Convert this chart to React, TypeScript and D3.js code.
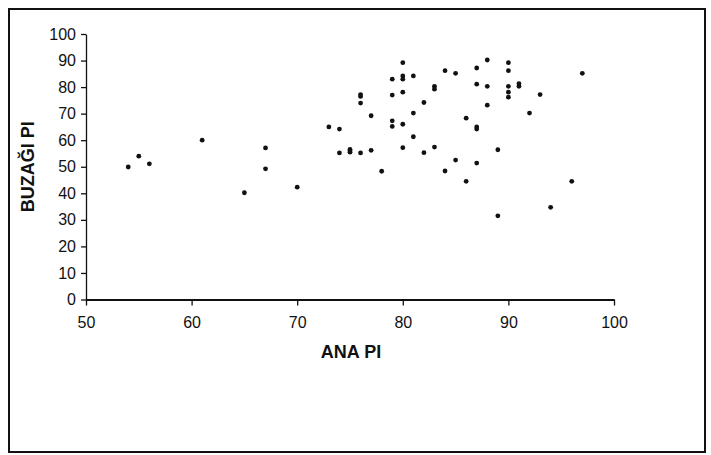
import { useEffect, useRef } from 'react';
import * as d3 from 'd3';

// ANA PI (x) and BUZAĞI PI (y)
const anaPI = [
  54, 55, 56, 61, 65, 67, 67, 70, 73, 74, 74, 75, 75, 75, 76, 76, 76, 76, 77, 77,
  78, 79, 79, 79, 79, 80, 80, 80, 80, 80, 80, 81, 81, 81, 82, 82, 83, 83, 83, 84,
  84, 85, 85, 86, 86, 87, 87, 87, 87, 87, 88, 88, 88, 89, 89, 90, 90, 90, 90, 90,
  91, 91, 92, 93, 94, 96, 97,
];
const buzagiPI = [
  49.9, 54, 51.1, 60, 40.2, 57.1, 49.2, 42.3, 65, 64.2, 55.2, 56.5, 56, 55.5, 77.2, 76.5, 74, 55.2, 69.2, 56.2,
  48.3, 83, 77, 67.3, 65.2, 89.2, 84.2, 83, 78.1, 66, 57.2, 84.2, 70.2, 61.3, 74.2, 55.3, 80.3, 79.2, 57.4, 86.2,
  48.4, 85.2, 52.5, 68.3, 44.5, 87.2, 81.1, 65, 64.2, 51.4, 90.2, 80.3, 73.2, 56.4, 31.5, 89.2, 86.2, 80.3, 78.1, 76.2,
  81.3, 80.3, 70.2, 77.2, 34.7, 44.5, 85.2,
];
const xTicks = [50, 60, 70, 80, 90, 100];
const yTicks = [0, 10, 20, 30, 40, 50, 60, 70, 80, 90, 100];

export default function App() {
  const svgRef = useRef<SVGSVGElement>(null);

  useEffect(() => {
    const width = 711;
    const height = 455;
    const font = "Arial, 'Liberation Sans', sans-serif";

    const svg = d3.select(svgRef.current);
    svg.selectAll('*').remove();
    svg.attr('width', width).attr('height', height);

    svg.append('rect').attr('width', width).attr('height', height).attr('fill', '#fff');

    // cadre extérieur
    svg.append('rect')
      .attr('x', 9).attr('y', 9)
      .attr('width', 696).attr('height', 443)
      .attr('fill', 'none')
      .attr('stroke', '#111')
      .attr('stroke-width', 2);

    const x = d3.scaleLinear().domain([50, 100]).range([86, 614]);
    const y = d3.scaleLinear().domain([0, 100]).range([299.5, 34]);

    const xAxis = svg.append('g')
      .attr('transform', `translate(0,${y(0)})`)
      .call(d3.axisBottom(x).tickValues(xTicks).tickSize(6).tickPadding(11).tickSizeOuter(0));
    xAxis.select('.domain').attr('stroke', '#111').attr('stroke-width', 2);
    xAxis.selectAll('line').attr('stroke', '#111').attr('stroke-width', 1.3);
    xAxis.selectAll('text')
      .attr('font-family', font).attr('font-size', 16).attr('fill', '#111');

    const yAxis = svg.append('g')
      .attr('transform', `translate(${x(50)},0)`)
      .call(d3.axisLeft(y).tickValues(yTicks).tickSize(5).tickPadding(5).tickSizeOuter(0));
    yAxis.select('.domain').attr('stroke', '#111').attr('stroke-width', 1.3);
    yAxis.selectAll('line').attr('stroke', '#111').attr('stroke-width', 1.3);
    yAxis.selectAll('text')
      .attr('font-family', font).attr('font-size', 16).attr('fill', '#111');

    // titres des axes
    svg.append('text')
      .attr('x', 351)
      .attr('y', 358)
      .attr('text-anchor', 'middle')
      .attr('font-family', font)
      .attr('font-size', 18)
      .attr('font-weight', 'bold')
      .attr('fill', '#111')
      .text('ANA PI');

    svg.append('text')
      .attr('transform', `translate(34,${(y(0) + y(100)) / 2}) rotate(-90)`)
      .attr('text-anchor', 'middle')
      .attr('font-family', font)
      .attr('font-size', 18)
      .attr('font-weight', 'bold')
      .attr('fill', '#111')
      .text('BUZAĞI PI');

    // points
    svg.append('g')
      .selectAll('circle')
      .data(anaPI.map((a, i) => ({ a, b: buzagiPI[i] })))
      .join('circle')
      .attr('cx', d => x(d.a))
      .attr('cy', d => y(d.b))
      .attr('r', 2.4)
      .attr('fill', '#111');
  }, []);

  return (
    <svg ref={svgRef} style={{ position: 'absolute', left: 0, top: 0, display: 'block' }} />
  );
}
